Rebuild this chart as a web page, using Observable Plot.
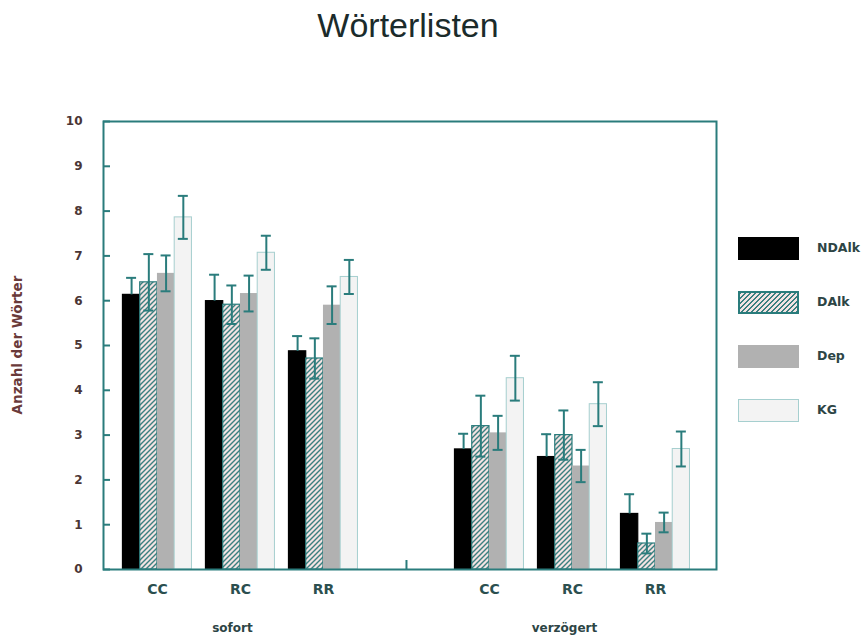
<!DOCTYPE html>
<html>
<head>
<meta charset="utf-8">
<script src="https://cdn.jsdelivr.net/npm/d3@7"></script>
<script src="https://cdn.jsdelivr.net/npm/@observablehq/plot@0.6"></script>
<style>
  body { margin: 0; background: #fff; }
  #wrap { position: relative; width: 867px; height: 639px; overflow: hidden; font-family: "DejaVu Sans", sans-serif; }
  #title { position: absolute; left: 0; width: 816px; top: 6px; text-align: center; font-family: "Liberation Sans", Arial, sans-serif; font-size: 34px; color: #1b2b2b; }
  #ylabel { position: absolute; left: 17px; top: 345px; transform: translate(-50%, -50%) rotate(-90deg); white-space: nowrap; font-weight: bold; font-size: 13.5px; color: #6a3a3a; }
  #chart { position: absolute; left: 0; top: 100px; }
  .leg { position: absolute; left: 738px; width: 61px; height: 23px; box-sizing: border-box; }
  .legt { position: absolute; left: 817px; font-weight: bold; font-size: 12.5px; color: #2d4545; white-space: nowrap; line-height: 1; }
</style>
</head>
<body>
<div id="wrap">
  <div id="title"></div>
  <div id="ylabel"></div>
  <div id="chart"></div>
</div>
<script>
// ---- data ----
const title = "Wörterlisten";
const yLabel = "Anzahl der Wörter";
const conditions = ["sofort", "verzögert"];
const categories = ["CC", "RC", "RR"];
const series = ["NDAlk", "DAlk", "Dep", "KG"];
const yTicks = [0, 1, 2, 3, 4, 5, 6, 7, 8, 9, 10];
// means: sofort CC, RC, RR, verzögert CC, RC, RR
const ndalk = [6.13, 5.99, 4.87, 2.68, 2.51, 1.24];
const dalk  = [6.41, 5.91, 4.71, 3.20, 3.00, 0.58];
const dep   = [6.61, 6.16, 5.90, 3.05, 2.31, 1.05];
const kg    = [7.86, 7.07, 6.53, 4.27, 3.69, 2.69];
// error bar half-lengths
const ndalkErr = [0.38, 0.59, 0.34, 0.35, 0.51, 0.44];
const dalkErr  = [0.63, 0.43, 0.45, 0.68, 0.55, 0.22];
const depErr   = [0.40, 0.40, 0.42, 0.38, 0.36, 0.22];
const kgErr    = [0.48, 0.38, 0.38, 0.50, 0.49, 0.39];

// ---- styles ----
const teal = "#2a7c7c";
const textCol = "#2d4545";
const fills = ["#000000", "url(#hatch)", "#b1b1b1", "#f3f3f3"];
const strokes = ["#000000", teal, "none", "#a6cfcf"];

// ---- layout helpers ----
const means = [ndalk, dalk, dep, kg];
const errs = [ndalkErr, dalkErr, depErr, kgErr];
const groupW = 0.831;
const barW = groupW / series.length;
const rows = [];
conditions.forEach((c, ci) => categories.forEach((cat, ki) => {
  const i = ci * categories.length + ki;
  const slot = ci * (categories.length + 1) + ki + 1;
  series.forEach((s, si) => {
    const x1 = slot - groupW / 2 + si * barW;
    rows.push({condition: c, category: cat, series: s, slot, x1, x2: x1 + barW, cx: x1 + barW / 2, value: means[si][i], err: errs[si][i]});
  });
}));
const slots = [...new Set(rows.map(r => r.slot))];
const slotLabel = new Map(rows.map(r => [r.slot, r.category]));
const gapSlot = categories.length + 1;
const condLabels = conditions.map((c, ci) => ({label: c, x: ci * (categories.length + 1) + 2}));

const plot = Plot.plot({
  width: 867,
  height: 539,
  marginTop: 21,
  marginBottom: 70,
  marginLeft: 103,
  marginRight: 151,
  x: {type: "linear", domain: [0.35, 7.735], axis: null},
  y: {domain: [0, 10], axis: null},
  style: {fontFamily: "DejaVu Sans, sans-serif", fontSize: "12px", color: textCol, background: "transparent", overflow: "visible"},
  marks: [
    ...series.map((s, k) => Plot.rectY(rows.filter(r => r.series === s), {
      x1: "x1", x2: "x2", y1: 0, y2: "value",
      fill: fills[k], stroke: strokes[k], strokeWidth: k === 3 ? 1 : 1.2
    })),
    Plot.ruleX(rows, {x: "cx", y1: d => d.series === "NDAlk" ? d.value : d.value - d.err, y2: d => d.value + d.err, stroke: teal, strokeWidth: 2}),
    Plot.ruleY(rows, {y: d => d.value + d.err, x1: "cx", x2: "cx", insetLeft: -5, insetRight: -5, stroke: teal, strokeWidth: 2}),
    Plot.ruleY(rows.filter(r => r.series !== "NDAlk"), {y: d => d.value - d.err, x1: "cx", x2: "cx", insetLeft: -5, insetRight: -5, stroke: teal, strokeWidth: 2}),
    Plot.axisY({ticks: yTicks, label: null, tickSize: -7, tickPadding: 28, stroke: teal, strokeWidth: 2, fill: "#4a3535", fontWeight: "bold", fontSize: 12, tickFormat: d => String(d)}),
    Plot.axisX({ticks: slots, label: null, tickSize: 0, tickPadding: 15, tickFormat: d => slotLabel.get(d), fontWeight: "bold", fontSize: 14, fill: "#2b4f4f"}),
    Plot.axisX({ticks: [gapSlot], label: null, tickSize: -9, tickFormat: () => "", stroke: teal, strokeWidth: 2}),
    Plot.text(condLabels, {x: "x", y: 0, text: "label", dy: 59, dx: -8, fontWeight: "bold", fontSize: 12, fill: textCol}),
    Plot.frame({stroke: teal, strokeWidth: 2})
  ]
});

// hatch pattern
const defs = d3.select(plot).insert("defs", ":first-child");
const pat = defs.append("pattern").attr("id", "hatch").attr("patternUnits", "userSpaceOnUse").attr("width", 5).attr("height", 5);
pat.append("rect").attr("width", 5).attr("height", 5).attr("fill", "#f3e3e3");
pat.append("path").attr("d", "M0,5 L5,0 M-1,1 L1,-1 M4,6 L6,4").attr("stroke", "#3b7f7f").attr("stroke-width", 1.4);

document.getElementById("chart").appendChild(plot);
document.getElementById("title").textContent = title;
document.getElementById("ylabel").textContent = yLabel;

// legend
const wrap = document.getElementById("wrap");
const legBg = [
  "#000",
  "repeating-linear-gradient(135deg, #3b7f7f 0 1.4px, #f3e3e3 1.4px 3.5px)",
  "#b1b1b1",
  "#f3f3f3"
];
const legBorder = ["1px solid #000", "2px solid " + teal, "none", "1px solid #a6cfcf"];
series.forEach((s, k) => {
  const top = 237 + k * 54;
  const b = document.createElement("div");
  b.className = "leg";
  b.style.top = top + "px";
  b.style.background = legBg[k];
  b.style.border = legBorder[k];
  wrap.appendChild(b);
  const t = document.createElement("div");
  t.className = "legt";
  t.style.top = (top + 5) + "px";
  t.textContent = s;
  wrap.appendChild(t);
});
</script>
</body>
</html>
